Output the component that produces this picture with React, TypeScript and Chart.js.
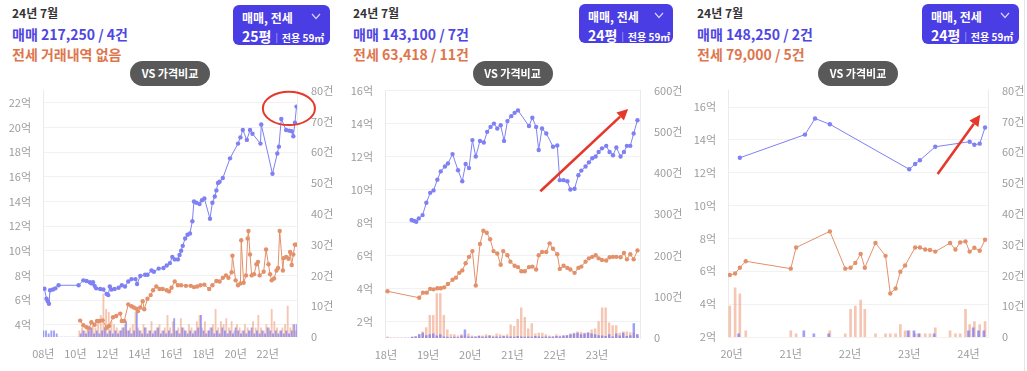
import React, { useEffect, useRef } from 'react';
import { Chart, registerables } from 'chart.js';
Chart.register(...registerables);

// ---------------- DATA ----------------
// Panel 1 (25평)
const p1SaleX = [2008.07,2008.2,2008.28,2008.35,2008.42,2008.6,2008.75,2008.95,
  2010.2,2010.5,2010.7,2010.9,2011.0,2011.1,2011.2,2011.3,2011.55,2011.75,2011.95,
  2012.05,2012.15,2012.25,2012.45,2012.7,2012.9,
  2013.1,2013.3,2013.5,2013.75,2013.85,
  2014.05,2014.35,2014.5,2014.75,2014.9,
  2015.2,2015.5,2015.7,2015.9,
  2016.05,2016.2,2016.4,2016.5,2016.6,2016.7,2016.85,
  2017.0,2017.15,2017.3,2017.4,2017.55,2017.75,2017.9,
  2018.05,2018.4,2018.55,2018.7,2018.8,2018.9,
  2019.0,2019.2,2019.65,
  2020.15,2020.3,2020.45,2020.7,2020.9,
  2021.05,2021.55,2021.6,
  2022.3,2022.6,2022.7,2022.85,
  2023.15,2023.35,2023.5,2023.6,2023.7,2023.8];
const p1SaleY = [6.92,6.1,5.9,5.7,6.8,6.85,6.95,7.2,
  7.2,7.6,7.55,7.45,7.35,7.45,7.15,6.95,6.9,6.85,6.5,
  6.4,7.1,6.85,6.9,7.0,7.2,
  7.1,7.5,7.7,7.7,7.3,
  7.95,8.05,8.05,8.4,8.3,
  8.55,8.6,8.8,9.0,
  9.5,9.3,9.3,9.65,10.0,10.4,11.0,
  11.3,11.4,12.4,14.0,13.9,13.8,14.1,
  14.25,12.6,13.9,14.4,14.9,15.5,
  15.6,15.9,17.5,
  18.7,19.2,19.8,19.0,19.8,
  19.5,18.7,20.25,
  16.25,17.9,18.45,20.7,
  19.8,19.75,19.7,19.3,20.4,21.7];
const p1JeonseX = [2010.3,2010.5,2010.7,2010.85,2011.0,2011.2,2011.35,2011.5,2011.7,2011.95,
  2012.1,2012.35,2012.55,2012.8,2012.9,
  2013.05,2013.3,2013.5,2013.65,2013.8,2013.9,
  2014.05,2014.2,2014.3,2014.5,2014.7,2014.85,
  2015.05,2015.25,2015.45,2015.7,2015.85,
  2016.0,2016.2,2016.4,2016.6,2016.9,
  2017.2,2017.4,2017.6,2017.8,
  2018.05,2018.35,2018.55,2018.8,
  2019.0,2019.2,2019.4,2019.55,2019.75,2019.8,
  2020.0,2020.15,2020.3,2020.35,2020.5,2020.65,2020.75,2020.8,2020.9,
  2021.0,2021.15,2021.3,2021.4,2021.5,2021.75,2021.9,
  2022.05,2022.15,2022.25,2022.4,2022.55,2022.65,2022.75,2022.95,
  2023.0,2023.15,2023.3,2023.4,2023.5,2023.6,2023.7,2023.8];
const p1JeonseY = [4.33,3.95,3.8,3.7,4.2,4.0,4.3,4.3,4.35,3.75,
  3.9,4.6,4.7,4.9,4.3,
  4.3,5.65,5.5,5.4,5.3,5.1,
  5.4,5.9,5.25,6.1,6.4,6.8,
  7.1,6.9,6.9,6.8,6.7,
  7.0,7.5,7.2,7.2,7.15,
  7.15,7.05,7.1,7.2,
  7.25,6.9,7.2,7.55,
  7.5,7.8,8.0,7.8,8.25,9.6,
  7.6,7.2,7.35,10.85,7.4,8.0,11.0,11.6,9.7,
  8.0,8.1,8.9,9.1,8.0,8.3,10.1,
  8.9,8.1,7.6,7.75,8.4,8.6,11.6,8.4,
  9.4,9.5,9.35,9.9,8.85,9.7,10.5,10.5];
// volume bars, every two months
const p1SaleBarStart = 2008.0;
const p1SaleBars = [2,2,1,2,2,1, 0,0,0,0,0,0,0,0,
  1,2,1,2,3,1,2,1,2,3,1,2,1,2,1,2,3, 5, 2,1,2, 8,
  2,1,3,1,2,1,2,3,1,2,1,2,1, 6, 2,1,3,2,1,2,1,2,3, 7,
  2,1,2,3,1,2,1,3,2,1,2,1,3,2,1,2,1,2,3,1,2,1,2,1,3,2,1,2,1,2,1,2,1,2, 4,4];
const p1JeonseBarStart = 2010.25;
const p1JeonseBars = [2,3,2,3,2,4,3,5, 7,14,9,8,5, 4,3,2,3,4,2,3,4, 8, 3,2,4,3,2, 5, 2,3,4,2,3, 7,
  3,5,2,3, 6, 3,2,4,3,2,5, 7, 3,5,2,3,4, 9, 3,5,4, 6, 3,5,2,4,3,2,4,3,2,5,3, 7, 3,2,4,3, 9,
  5,3,2,3,4, 10, 3,4,2];

// Panel 2 (24평)
const p2SaleX = [2018.61,2018.67,2018.72,2018.78,2018.87,2018.96,
  2019.05,2019.13,2019.22,2019.3,2019.4,2019.47,2019.58,2019.71,2019.81,2019.89,2019.97,
  2020.05,2020.13,2020.23,2020.32,2020.4,2020.48,2020.56,2020.64,2020.72,2020.8,2020.88,2020.97,
  2021.05,2021.13,2021.39,2021.47,2021.56,2021.62,2021.7,2021.8,2021.96,
  2022.06,2022.12,2022.21,2022.3,2022.37,2022.47,2022.56,2022.63,2022.73,2022.81,2022.89,2022.97,
  2023.04,2023.12,2023.22,2023.3,2023.38,2023.46,2023.56,2023.64,2023.71,2023.79,2023.87,2023.96];
const p2SaleY = [8.15,8.1,8.05,8.25,8.45,9.2,
  9.8,9.95,10.6,11.1,11.4,11.58,12.15,11.17,10.5,11.55,11.3,
  13.0,12.0,12.95,12.85,13.5,13.8,14.0,13.7,13.9,12.95,14.15,14.45,
  14.65,14.8,13.85,14.35,13.8,12.4,13.7,13.4,12.6,
  12.67,10.57,10.57,10.5,10.0,10.05,10.87,11.15,11.4,11.65,11.9,12.0,
  12.28,12.5,12.65,12.28,12.08,12.55,12.0,12.28,12.65,12.65,13.4,14.2];
const p2JeonseX = [2018.04,2018.79,2018.88,2018.97,
  2019.05,2019.13,2019.22,2019.3,2019.38,2019.47,2019.58,2019.66,2019.74,2019.81,2019.89,2019.97,
  2020.05,2020.13,2020.23,2020.31,2020.39,2020.47,2020.55,2020.64,2020.72,2020.78,2020.88,2020.95,
  2021.05,2021.13,2021.21,2021.29,2021.39,2021.47,2021.56,2021.62,2021.7,2021.8,2021.88,2021.96,
  2022.06,2022.12,2022.21,2022.3,2022.37,2022.47,2022.56,2022.63,2022.73,2022.81,2022.89,2022.97,
  2023.04,2023.12,2023.22,2023.3,2023.38,2023.46,2023.56,2023.64,2023.71,2023.79,2023.87,2023.96];
const p2JeonseY = [3.83,3.44,3.75,3.75,
  3.98,3.95,4.02,4.02,4.07,4.27,4.53,4.66,4.95,5.1,5.53,5.92,
  6.27,4.18,6.7,7.5,7.38,6.99,6.27,6.12,5.44,6.27,6.02,5.63,
  5.38,5.3,5.05,5.05,5.3,5.33,5.15,6.02,6.21,6.21,6.74,6.41,
  6.08,5.19,5.38,5.25,5.15,4.95,5.25,5.33,5.63,5.83,5.92,6.02,
  5.83,5.73,5.7,5.9,5.92,5.92,5.9,6.15,5.77,6.08,5.77,6.31];
// monthly volume bars
const p2BarStart = 2018.04;
const p2JeonseBars = [3,0,0,0,0,0,0,2,4,8,15,25, 55,55,108,108,55,20,8,8,5,8,6,10,
  5,3,6,5,8,6,5,10,8,6,8,32, 28,45,73,50,22,35,10,12,12,8,5,3,
  8,5,5,6,10,12,15,14,12,14,20,22, 40,73,73,37,30,30,12,15,15,13,12,8];
const p2SaleBars = [0,0,0,0,0,0,0,2,3,8,12,6, 8,10,5,8,3,2,1,2,1,5,20,3,
  2,3,4,2,3,5,2,3,2,4,3,3, 2,4,3,2,3,2,4,3,2,3,2,3,
  4,3,5,6,8,10,12,8,10,12,10,8, 6,5,4,8,3,10,5,12,4,6,35,8];

// Panel 3 (24평)
const p3SaleX = [2020.14,2021.24,2021.41,2021.66,2023.0,2023.1,2023.18,2023.44,2024.02,2024.1,2024.19,2024.28];
const p3SaleY = [12.91,14.32,15.3,14.95,12.21,12.53,12.76,13.58,13.89,13.7,13.77,14.75];
const p3JeonseX = [2019.97,2020.06,2020.14,2020.24,2021.0,2021.09,2021.66,2021.92,2022.01,2022.09,2022.18,2022.25,
  2022.43,2022.6,2022.68,2022.77,2022.85,2022.93,2023.1,2023.18,2023.27,2023.35,2023.44,
  2023.69,2023.78,2023.86,2023.95,2024.02,2024.1,2024.19,2024.28];
const p3JeonseY = [5.77,5.87,6.22,6.61,6.16,7.45,8.43,6.16,6.22,6.51,7.06,6.22,
  7.72,6.94,4.65,4.95,5.97,6.35,7.45,7.45,7.33,7.3,7.2,
  7.72,7.33,7.76,7.82,7.2,7.43,7.25,7.92];
const p3JeonseBarX = [2019.97,2020.06,2020.14,2020.24,2021.0,2021.09,2021.66,2021.92,2022.01,2022.09,2022.18,2022.25,
  2022.43,2022.6,2022.68,2022.77,2022.85,2022.93,2023.0,2023.1,2023.18,2023.27,2023.35,2023.44,
  2023.69,2023.78,2023.86,2023.95,2024.02,2024.1,2024.19,2024.28];
const p3JeonseBarY = [10,16,14,2,2,1,2,1,9,10,12,9,
  1,1,1,1,4,2,2,1,1,1,1,3,
  2,1,1,9,4,5,4,5];
const p3SaleBarX = [2020.12,2021.22,2021.39,2021.64,2022.98,2023.08,2023.16,2023.42,2024.0,2024.08,2024.17,2024.26];
const p3SaleBarY = [1,2,1,1,2,2,1,1,2,3,2,2];

// axes
const p1XTicks = [2008,2010,2012,2014,2016,2018,2020,2022];
const p1XLabels = ['08년','10년','12년','14년','16년','18년','20년','22년'];
const p1YTicks = [4,6,8,10,12,14,16,18,20,22];
const p1RTicks = [0,10,20,30,40,50,60,70,80];
const p2XTicks = [2018,2019,2020,2021,2022,2023];
const p2XLabels = ['18년','19년','20년','21년','22년','23년'];
const p2YTicks = [2,4,6,8,10,12,14,16];
const p2RTicks = [0,100,200,300,400,500,600];
const p3XTicks = [2020,2021,2022,2023,2024];
const p3XLabels = ['20년','21년','22년','23년','24년'];
const p3YTicks = [2,4,6,8,10,12,14,16];
const p3RTicks = [0,10,20,30,40,50,60,70,80];

// header texts
const monthText = '24년 7월';
const p1Texts = ['매매 217,250 / 4건', '전세 거래내역 없음', '25평'];
const p2Texts = ['매매 143,100 / 7건', '전세 63,418 / 11건', '24평'];
const p3Texts = ['매매 148,250 / 2건', '전세 79,000 / 5건', '24평'];

// red marks in data units
const p1Circle = { x1: 2021.7, x2: 2024.95, y1: 20.2, y2: 22.9 };
const p2Arrow = { x1: 2021.66, y1: 9.9, x2: 2023.74, y2: 14.88 };
const p3Arrow = { x1: 2023.48, y1: 11.92, x2: 2024.2, y2: 15.53 };

// ---------------- STYLE ----------------
const FONT = '"Noto Sans CJK KR", "Noto Sans", sans-serif';
const BLUE_LINE = '#7f81f3';
const ORANGE_LINE = '#e2916a';
const BLUE_BAR = 'rgba(118,118,240,0.7)';
const ORANGE_BAR = 'rgba(236,152,116,0.55)';
const RED = '#e5382b';
const TICK = '#9c9c9c';
const CANVAS_TOP = 70;
const CANVAS_H = 300;

const pts = (xs: number[], ys: number[]) => xs.map((x, i) => ({ x, y: ys[i] }));
const series = (start: number, step: number, vals: number[]) => vals.map((v, i) => ({ x: start + i * step, y: v }));

type Mark = { kind: 'ellipse' | 'arrow'; x1: number; y1: number; x2: number; y2: number };

interface PanelCfg {
  left: number; width: number;
  plotLeft: number; plotRight: number; plotTop: number; plotBottom: number;
  xMin: number; xMax: number; xTicks: number[]; xLabels: string[];
  yMin: number; yMax: number; yTicks: number[];
  rMax: number; rTicks: number[];
  sale: any[]; jeonse: any[]; saleBars: any[]; jeonseBars: any[]; barW: number;
  texts: string[]; textLeft: number;
  badge: { left: number; top: number; w: number; h: number };
  mark: Mark;
}

const panels: PanelCfg[] = [
  {
    left: 0, width: 340, plotLeft: 43, plotRight: 297, plotTop: 82, plotBottom: 337,
    xMin: 2007.98, xMax: 2023.83, xTicks: p1XTicks, xLabels: p1XLabels,
    yMin: 3, yMax: 23, yTicks: p1YTicks, rMax: 80, rTicks: p1RTicks,
    sale: pts(p1SaleX, p1SaleY), jeonse: pts(p1JeonseX, p1JeonseY),
    saleBars: series(p1SaleBarStart, 1 / 6, p1SaleBars), jeonseBars: series(p1JeonseBarStart, 1 / 6, p1JeonseBars), barW: 1.2,
    texts: p1Texts, textLeft: 12, badge: { left: 233, top: 5, w: 97, h: 40 },
    mark: { kind: 'ellipse', ...p1Circle },
  },
  {
    left: 340, width: 345, plotLeft: 385, plotRight: 640, plotTop: 80, plotBottom: 338,
    xMin: 2017.98, xMax: 2024.02, xTicks: p2XTicks, xLabels: p2XLabels,
    yMin: 1, yMax: 16, yTicks: p2YTicks, rMax: 600, rTicks: p2RTicks,
    sale: pts(p2SaleX, p2SaleY), jeonse: pts(p2JeonseX, p2JeonseY),
    saleBars: series(p2BarStart, 1 / 12, p2SaleBars), jeonseBars: series(p2BarStart, 1 / 12, p2JeonseBars), barW: 1.8,
    texts: p2Texts, textLeft: 353, badge: { left: 579, top: 4, w: 94, h: 39 },
    mark: { kind: 'arrow', ...p2Arrow },
  },
  {
    left: 685, width: 342, plotLeft: 728, plotRight: 988, plotTop: 82, plotBottom: 337,
    xMin: 2019.94, xMax: 2024.33, xTicks: p3XTicks, xLabels: p3XLabels,
    yMin: 2, yMax: 17, yTicks: p3YTicks, rMax: 80, rTicks: p3RTicks,
    sale: pts(p3SaleX, p3SaleY), jeonse: pts(p3JeonseX, p3JeonseY),
    saleBars: pts(p3SaleBarX, p3SaleBarY), jeonseBars: pts(p3JeonseBarX, p3JeonseBarY), barW: 2,
    texts: p3Texts, textLeft: 697, badge: { left: 922, top: 4, w: 97, h: 40 },
    mark: { kind: 'arrow', ...p3Arrow },
  },
];

function PanelChart({ cfg }: { cfg: PanelCfg }) {
  const ref = useRef<HTMLCanvasElement>(null);
  useEffect(() => {
    if (!ref.current) return;
    const tickFont = { family: FONT, size: 11 };
    const markPlugin = {
      id: 'redMarks',
      afterDraw(chart: any) {
        const { ctx, scales } = chart;
        const m = cfg.mark;
        const ax = scales.x.getPixelForValue(m.x1);
        const ay = scales.y.getPixelForValue(m.y1);
        const bx = scales.x.getPixelForValue(m.x2);
        const by = scales.y.getPixelForValue(m.y2);
        ctx.save();
        ctx.strokeStyle = RED;
        ctx.fillStyle = RED;
        if (m.kind === 'ellipse') {
          ctx.lineWidth = 2;
          ctx.beginPath();
          ctx.ellipse((ax + bx) / 2, (ay + by) / 2, Math.abs(bx - ax) / 2, Math.abs(by - ay) / 2, 0, 0, Math.PI * 2);
          ctx.stroke();
        } else {
          const ang = Math.atan2(by - ay, bx - ax);
          const hl = 11, hw = 5.5;
          const ex = bx - Math.cos(ang) * hl, ey = by - Math.sin(ang) * hl;
          ctx.lineWidth = 2.6;
          ctx.beginPath();
          ctx.moveTo(ax, ay);
          ctx.lineTo(ex, ey);
          ctx.stroke();
          ctx.beginPath();
          ctx.moveTo(bx, by);
          ctx.lineTo(ex - Math.sin(ang) * hw, ey + Math.cos(ang) * hw);
          ctx.lineTo(ex + Math.sin(ang) * hw, ey - Math.cos(ang) * hw);
          ctx.closePath();
          ctx.fill();
        }
        ctx.restore();
      },
    };
    const chart = new Chart(ref.current, {
      type: 'line',
      data: {
        datasets: [
          { type: 'line', data: cfg.sale, borderColor: BLUE_LINE, backgroundColor: BLUE_LINE, borderWidth: 1, pointRadius: 2.2, pointBorderWidth: 0, pointHoverRadius: 2, yAxisID: 'y', order: 0, tension: 0 } as any,
          { type: 'line', data: cfg.jeonse, borderColor: ORANGE_LINE, backgroundColor: ORANGE_LINE, borderWidth: 1, pointRadius: 2.2, pointBorderWidth: 0, pointHoverRadius: 2, yAxisID: 'y', order: 1, tension: 0 } as any,
          { type: 'bar', data: cfg.saleBars, backgroundColor: BLUE_BAR, yAxisID: 'y1', barThickness: cfg.barW, grouped: false, order: 2 } as any,
          { type: 'bar', data: cfg.jeonseBars, backgroundColor: ORANGE_BAR, yAxisID: 'y1', barThickness: cfg.barW, grouped: false, order: 3 } as any,
        ],
      },
      options: {
        responsive: false,
        animation: false,
        layout: { padding: { top: cfg.plotTop - CANVAS_TOP, left: 0, right: 0, bottom: 0 } },
        plugins: { legend: { display: false }, tooltip: { enabled: false } },
        scales: {
          x: {
            type: 'linear', min: cfg.xMin, max: cfg.xMax, offset: false,
            afterBuildTicks: (s: any) => { s.ticks = cfg.xTicks.map((v) => ({ value: v })); },
            afterFit: (s: any) => { s.height = CANVAS_TOP + CANVAS_H - cfg.plotBottom; },
            grid: { display: false, drawTicks: false },
            border: { display: false },
            ticks: {
              padding: 10, color: TICK, font: tickFont, autoSkip: false, maxRotation: 0,
              callback: (v: any) => cfg.xLabels[cfg.xTicks.indexOf(Number(v))] ?? '',
            },
          },
          y: {
            type: 'linear', position: 'left', min: cfg.yMin, max: cfg.yMax,
            afterBuildTicks: (s: any) => { s.ticks = cfg.yTicks.map((v) => ({ value: v })); },
            afterFit: (s: any) => { s.width = cfg.plotLeft - cfg.left; },
            grid: { color: '#f1f1f1', drawTicks: false },
            border: { display: true, color: '#ebebeb' },
            ticks: { padding: 12, color: TICK, font: tickFont, callback: (v: any) => `${v}억` },
          },
          y1: {
            type: 'linear', position: 'right', min: 0, max: cfg.rMax,
            afterBuildTicks: (s: any) => { s.ticks = cfg.rTicks.map((v) => ({ value: v })); },
            afterFit: (s: any) => { s.width = cfg.left + cfg.width - cfg.plotRight; },
            grid: { display: false, drawTicks: false },
            border: { display: true, color: '#ebebeb' },
            ticks: { padding: 14, color: TICK, font: tickFont, callback: (v: any) => (Number(v) === 0 ? '0' : `${v}건`) },
          },
        },
      } as any,
      plugins: [markPlugin],
    });
    return () => chart.destroy();
  }, [cfg]);
  return (
    <canvas
      ref={ref}
      width={cfg.width}
      height={CANVAS_H}
      style={{ position: 'absolute', left: cfg.left, top: CANVAS_TOP, width: cfg.width, height: CANVAS_H, display: 'block' }}
    />
  );
}

function Header({ cfg }: { cfg: PanelCfg }) {
  const b = cfg.badge;
  const pillW = 80;
  const pillCenter = (cfg.plotLeft + cfg.plotRight) / 2;
  return (
    <>
      <div style={{ position: 'absolute', left: cfg.textLeft, top: 4, lineHeight: '18px', fontSize: 12, fontWeight: 700, color: '#333', whiteSpace: 'nowrap' }}>{monthText}</div>
      <div style={{ position: 'absolute', left: cfg.textLeft, top: 24, lineHeight: '20px', fontSize: 14, fontWeight: 600, color: '#4f46e2', whiteSpace: 'nowrap' }}>{cfg.texts[0]}</div>
      <div style={{ position: 'absolute', left: cfg.textLeft, top: 44, lineHeight: '20px', fontSize: 14, fontWeight: 600, color: '#de764d', whiteSpace: 'nowrap' }}>{cfg.texts[1]}</div>
      <div style={{ position: 'absolute', left: b.left, top: b.top, width: b.w, height: b.h, background: '#4a3de3', borderRadius: 6, color: '#fff' }}>
        <div style={{ position: 'absolute', left: 9, top: 4, lineHeight: '17px', fontSize: 12, fontWeight: 700, whiteSpace: 'nowrap' }}>매매, 전세</div>
        <svg width="10" height="7" style={{ position: 'absolute', right: 9, top: 8 }}>
          <polyline points="1,1 5,5.5 9,1" fill="none" stroke="#d4d0ff" strokeWidth="1.2" />
        </svg>
        <div style={{ position: 'absolute', left: 9, top: 21, lineHeight: '18px', whiteSpace: 'nowrap' }}>
          <span style={{ fontSize: 14, fontWeight: 700 }}>{cfg.texts[2]}</span>
          <span style={{ fontSize: 9, color: '#bdb8ff', margin: '0 4px', position: 'relative', top: -1 }}>|</span>
          <span style={{ fontSize: 10, fontWeight: 700 }}>전용 59㎡</span>
        </div>
      </div>
      <div style={{ position: 'absolute', left: pillCenter - pillW / 2, top: 61, width: pillW, height: 25, borderRadius: 13, background: '#595959', color: '#fff', fontSize: 11, fontWeight: 700, lineHeight: '25px', textAlign: 'center', whiteSpace: 'nowrap', zIndex: 2 }}>VS 가격비교</div>
    </>
  );
}

export default function App() {
  useEffect(() => {
    document.body.style.margin = '0';
  }, []);
  return (
    <div style={{ position: 'fixed', left: 0, top: 0, width: 1027, height: 371, background: '#fff', overflow: 'hidden', fontFamily: FONT }}>
      {panels.map((p, i) => (
        <React.Fragment key={i}>
          <PanelChart cfg={p} />
          <Header cfg={p} />
        </React.Fragment>
      ))}
      <div style={{ position: 'absolute', left: 1024, top: 0, width: 1, height: 371, background: '#e6e6e6' }} />
    </div>
  );
}
